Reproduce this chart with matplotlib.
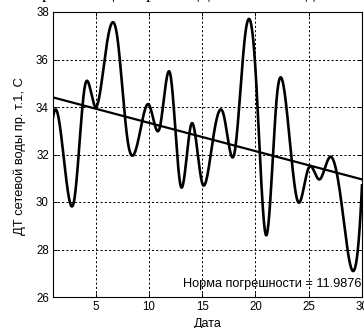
import numpy as np
import matplotlib
matplotlib.use("Agg")
import matplotlib.pyplot as plt

# ---- data ----
days = list(range(1, 31))
dt_values = [33.55, 31.9, 30.1, 34.9, 34.0, 36.5, 37.05, 32.6, 32.6, 34.1,
             33.1, 35.4, 30.65, 33.3, 30.8, 32.6, 33.7, 32.0, 36.9, 35.6,
             28.6, 34.4, 33.6, 30.0, 31.45, 30.95, 31.9, 30.2, 27.2, 30.7]
x_ticks = [5, 10, 15, 20, 25, 30]
y_ticks = [26, 28, 30, 32, 34, 36, 38]
norm_text = "Норма погрешности = 11.9876"
title_text = "Аппроксимация прямой ДТ сетевой воды"
ylabel_text = "ДТ сетевой воды пр. т.1, С"
xlabel_text = "Дата"


def spline_not_a_knot(x, y, xs):
    x = np.asarray(x, float)
    y = np.asarray(y, float)
    n = len(x)
    h = np.diff(x)
    A = np.zeros((n, n))
    b = np.zeros(n)
    A[0, 0], A[0, 1], A[0, 2] = h[1], -(h[0] + h[1]), h[0]
    A[-1, -3], A[-1, -2], A[-1, -1] = h[-1], -(h[-2] + h[-1]), h[-2]
    for i in range(1, n - 1):
        A[i, i - 1] = h[i - 1]
        A[i, i] = 2 * (h[i - 1] + h[i])
        A[i, i + 1] = h[i]
        b[i] = 6 * ((y[i + 1] - y[i]) / h[i] - (y[i] - y[i - 1]) / h[i - 1])
    M = np.linalg.solve(A, b)
    idx = np.clip(np.searchsorted(x, xs) - 1, 0, n - 2)
    x0, x1 = x[idx], x[idx + 1]
    hh = x1 - x0
    return (M[idx] * (x1 - xs) ** 3 / (6 * hh) + M[idx + 1] * (xs - x0) ** 3 / (6 * hh)
            + (y[idx] / hh - M[idx] * hh / 6) * (x1 - xs)
            + (y[idx + 1] / hh - M[idx + 1] * hh / 6) * (xs - x0))


W, H = 364, 328
fig = plt.figure(figsize=(W / 100, H / 100), dpi=100)
fig.patch.set_facecolor("white")
ax = fig.add_axes([53 / W, 1 - 297 / H, (362 - 53) / W, (297 - 12) / H])

xs = np.linspace(days[0], days[-1], 1200)
ax.plot(xs, spline_not_a_knot(days, dt_values, xs), color="black", lw=1.9,
        solid_joinstyle="round", zorder=3)
coef = np.polyfit(days, dt_values, 1)
ax.plot([days[0], days[-1]], np.polyval(coef, [days[0], days[-1]]),
        color="black", lw=1.6, zorder=3)

ax.set_xlim(1, 30)
ax.set_ylim(26, 38)
ax.set_xticks(x_ticks)
ax.set_yticks(y_ticks)
ax.grid(True, color="black", linestyle=(0, (2.2, 2.2)), linewidth=0.7)
ax.tick_params(direction="in", length=3, width=0.7, top=True, right=True,
               labelsize=8.3, pad=3, colors="black")
for lab in ax.get_xticklabels() + ax.get_yticklabels():
    lab.set_family("Liberation Sans")
for s in ax.spines.values():
    s.set_linewidth(0.8)
    s.set_color("black")

ax.text(0.9995, 0.045, norm_text, transform=ax.transAxes, ha="right", va="center",
        fontsize=9.2, family="Liberation Sans", zorder=4)

fig.text(20 / W, 1 - 156 / H, ylabel_text, rotation=90, ha="center", va="center",
         fontsize=9.3, family="Liberation Sans")
fig.text(208 / W, 1 - 324 / H, xlabel_text, ha="center", va="center",
         fontsize=9, family="Liberation Sans")
fig.text(10 / W, 1 + 1.5 / H, title_text, ha="left", va="baseline",
         fontsize=13, family="Liberation Serif")

fig.savefig("out.png", dpi=100)
